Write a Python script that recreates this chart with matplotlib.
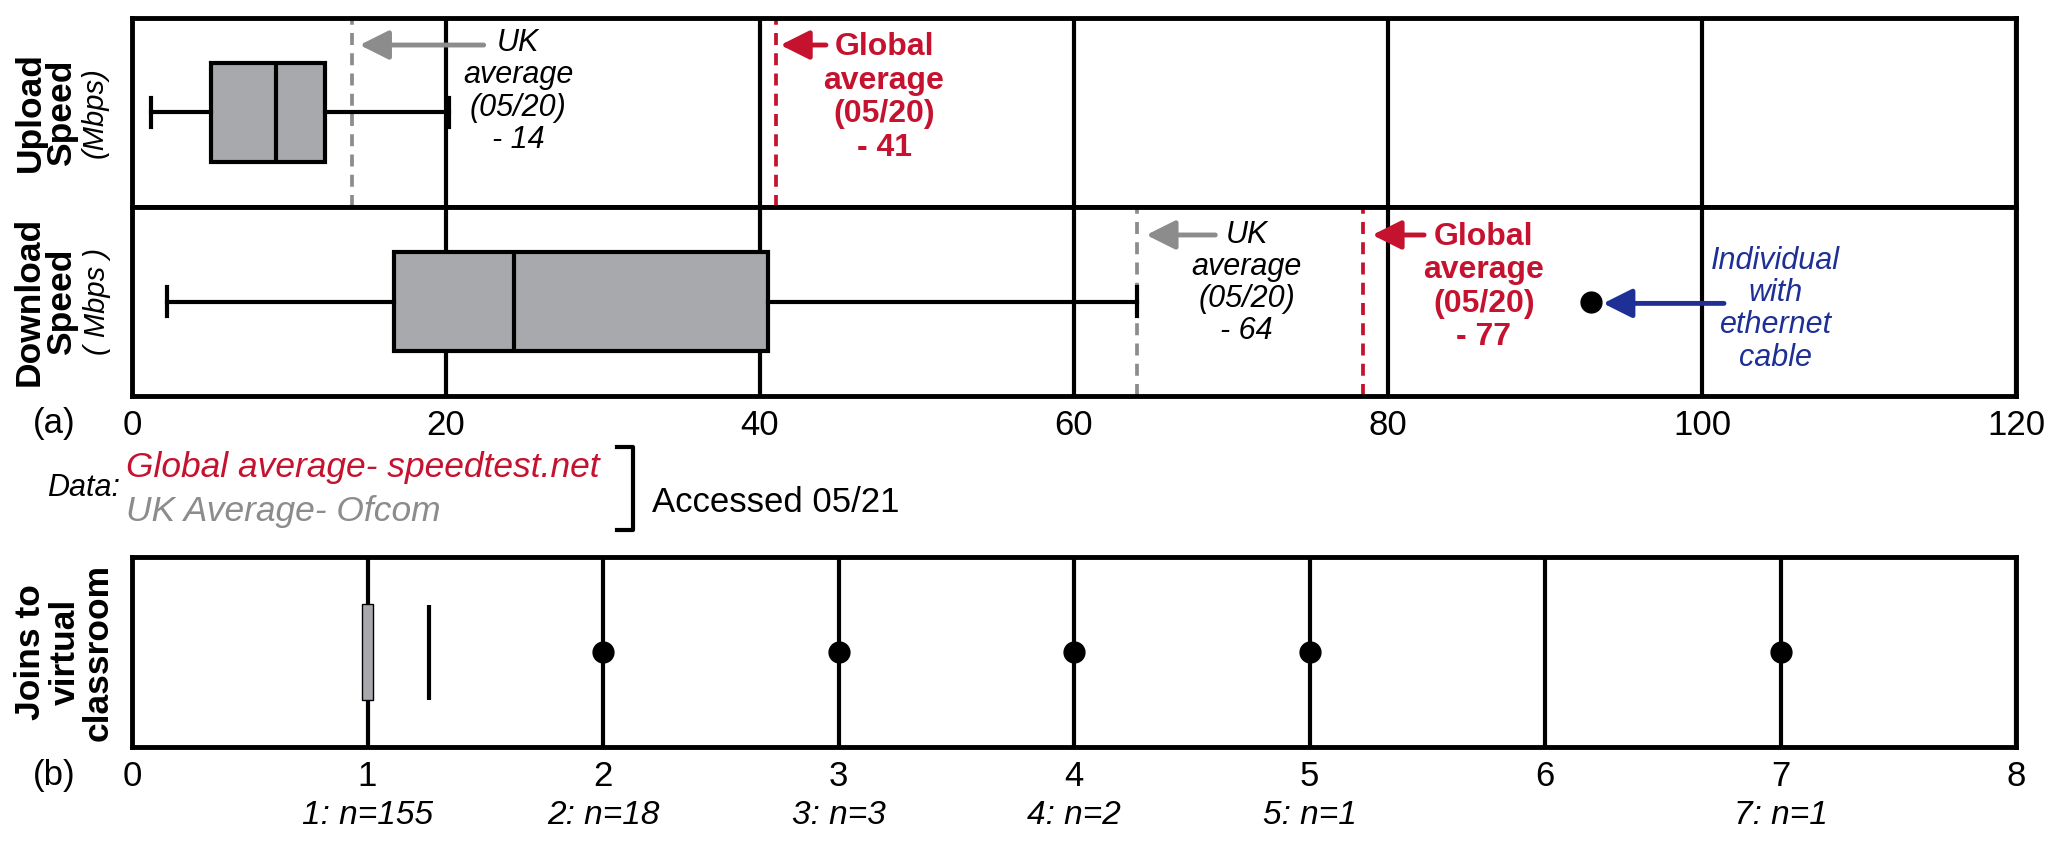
import matplotlib
matplotlib.use('Agg')
import matplotlib.pyplot as plt
from matplotlib.lines import Line2D

plt.rcParams['font.family'] = ['Liberation Sans', 'DejaVu Sans']

# speed box plots (Mbps)
upload_stats = dict(whislo=1.2, q1=5.0, med=9.2, q3=12.3, whishi=20.2, fliers=[])
download_stats = dict(whislo=2.2, q1=16.7, med=24.3, q3=40.5, whishi=64.0, fliers=[92.9])
uk_avg = [14, 64]
global_avg = [41, 78.4]
uk_labels = ['UK\naverage\n(05/20)\n- 14', 'UK\naverage\n(05/20)\n- 64']
global_labels = ['Global\naverage\n(05/20)\n- 41', 'Global\naverage\n(05/20)\n- 77']
speed_ticks = [0, 20, 40, 60, 80, 100, 120]

# joins to virtual classroom
joins_box = [0.975, 1.025]
joins_mark = 1.26
joins_points = [2, 3, 4, 5, 7]
joins_ticks = [0, 1, 2, 3, 4, 5, 6, 7, 8]
n_pos = [1, 2, 3, 4, 5, 7]
n_labels = ['1: n=155', '2: n=18', '3: n=3', '4: n=2', '5: n=1', '7: n=1']

RED = '#c4122f'
GREY = '#8c8c8c'
BOXGREY = '#a7a9ac'
BLUE = '#1e2f95'

W, H = 2067, 843
fig = plt.figure(figsize=(W / 100, H / 100), dpi=100)


def px_axes(top, bottom, left=132, right=2016):
    return fig.add_axes([left / W, 1 - bottom / H, (right - left) / W, (bottom - top) / H])


ax_up = px_axes(18, 207)
ax_dn = px_axes(207, 396)
ax_j = px_axes(557, 747)

for ax, ticks in [(ax_up, speed_ticks), (ax_dn, speed_ticks), (ax_j, joins_ticks)]:
    ax.set_xlim(ticks[0], ticks[-1])
    ax.set_ylim(0, 1)
    ax.set_yticks([])
    ax.set_xticks(ticks)
    ax.tick_params(axis='x', length=0, pad=9, labelsize=25)
    ax.grid(axis='x', color='k', lw=3)
    ax.set_axisbelow(True)
    for s in ax.spines.values():
        s.set_linewidth(3.5)
ax_up.set_xticklabels([])

box_kw = dict(positions=[0.5], widths=0.52, orientation='horizontal', patch_artist=True,
              boxprops=dict(facecolor=BOXGREY, edgecolor='k', lw=3),
              medianprops=dict(color='k', lw=3), whiskerprops=dict(color='k', lw=3),
              capprops=dict(color='k', lw=3), capwidths=0.15, manage_ticks=False,
              flierprops=dict(marker='o', markerfacecolor='k', markeredgecolor='k', markersize=15),
              zorder=3)
ax_up.bxp([upload_stats], **box_kw)
ax_dn.bxp([download_stats], **box_kw)

dash = (0, (3.2, 2.2))
uk_text_x = [24.6, 71.0]
gl_text_x = [47.9, 86.1]
uk_arrow = [(22.4, 14.5), (69.0, 64.6)]
gl_arrow = [(44.2, 41.3), (82.3, 79.0)]
arrow_y = [0.857, 0.852]
text_y = [(0.611, 0.58), (0.598, 0.577)]
head = '-|>,head_length=0.8,head_width=0.4'
for i, ax in enumerate([ax_up, ax_dn]):
    ax.axvline(uk_avg[i], color=GREY, lw=2.7, ls=dash, zorder=2)
    ax.axvline(global_avg[i], color=RED, lw=2.7, ls=dash, zorder=2)
    ax.text(uk_text_x[i], text_y[i][0], uk_labels[i], ha='center', va='center',
            fontsize=22, style='italic', linespacing=1.1)
    ax.text(gl_text_x[i], text_y[i][1], global_labels[i], ha='center', va='center',
            fontsize=23, fontweight='bold', color=RED, linespacing=1.15)
    ax.annotate('', xy=(uk_arrow[i][1], arrow_y[i]), xytext=(uk_arrow[i][0], arrow_y[i]),
                arrowprops=dict(arrowstyle=head, color=GREY, lw=3.5, mutation_scale=22,
                                shrinkA=0, shrinkB=0))
    ax.annotate('', xy=(gl_arrow[i][1], arrow_y[i]), xytext=(gl_arrow[i][0], arrow_y[i]),
                arrowprops=dict(arrowstyle=head, color=RED, lw=3.5, mutation_scale=22,
                                shrinkA=0, shrinkB=0))

# individual with ethernet cable
ax_dn.annotate('', xy=(93.7, 0.49), xytext=(101.4, 0.49),
               arrowprops=dict(arrowstyle=head, color=BLUE, lw=3.5, mutation_scale=22,
                               shrinkA=0, shrinkB=0))
ax_dn.text(104.7, 0.46, 'Individual\nwith\nethernet\ncable', ha='center', va='center',
           fontsize=22, style='italic', color=BLUE, linespacing=1.1)

# joins panel
ax_j.barh(0.5, joins_box[1] - joins_box[0], left=joins_box[0], height=0.505,
          color=BOXGREY, edgecolor='k', lw=1, zorder=3)
ax_j.vlines(joins_mark, 0.247, 0.747, color='k', lw=3, zorder=3)
ax_j.plot(joins_points, [0.5] * len(joins_points), 'o', color='k', ms=15, zorder=3)
for x, lab in zip(n_pos, n_labels):
    ax_j.annotate(lab, xy=(x, -0.36), xycoords=('data', 'axes fraction'), ha='center',
                  va='center', fontsize=24, style='italic')


# y labels
def ylab(lines, y):
    for (txt, x, bold) in lines:
        fig.text(x / W, 1 - y / H, txt, rotation=90, ha='center', va='center',
                 fontsize=25.5 if bold else 21, fontweight='bold' if bold else 'normal',
                 style='normal' if bold else 'italic')


ylab([('Upload', 30, True), ('Speed', 62, True), ('(Mbps)', 95, False)], 112.5)
ylab([('Download', 29, True), ('Speed', 62, True), ('( Mbps )', 97, False)], 301.5)
ylab([('Joins to', 31, True), ('virtual', 65, True), ('classroom', 98, True)], 652)

fig.text(54 / W, 1 - 423 / H, '(a)', ha='center', va='center', fontsize=25)
fig.text(54 / W, 1 - 775 / H, '(b)', ha='center', va='center', fontsize=25)

# data sources
fig.text(120 / W, 1 - 488 / H, 'Data:', ha='right', va='center', fontsize=22, style='italic')
fig.text(126 / W, 1 - 467 / H, 'Global average- speedtest.net', ha='left', va='center',
         fontsize=25.5, style='italic', color=RED)
fig.text(126 / W, 1 - 512 / H, 'UK Average- Ofcom', ha='left', va='center',
         fontsize=25.5, style='italic', color=GREY)
fig.add_artist(Line2D([617 / W, 633 / W, 633 / W, 617 / W],
                      [1 - 447 / H, 1 - 447 / H, 1 - 530 / H, 1 - 530 / H],
                      color='k', lw=3, transform=fig.transFigure))
fig.text(652 / W, 1 - 502 / H, 'Accessed 05/21', ha='left', va='center', fontsize=25)

fig.savefig('out.png', dpi=100)
